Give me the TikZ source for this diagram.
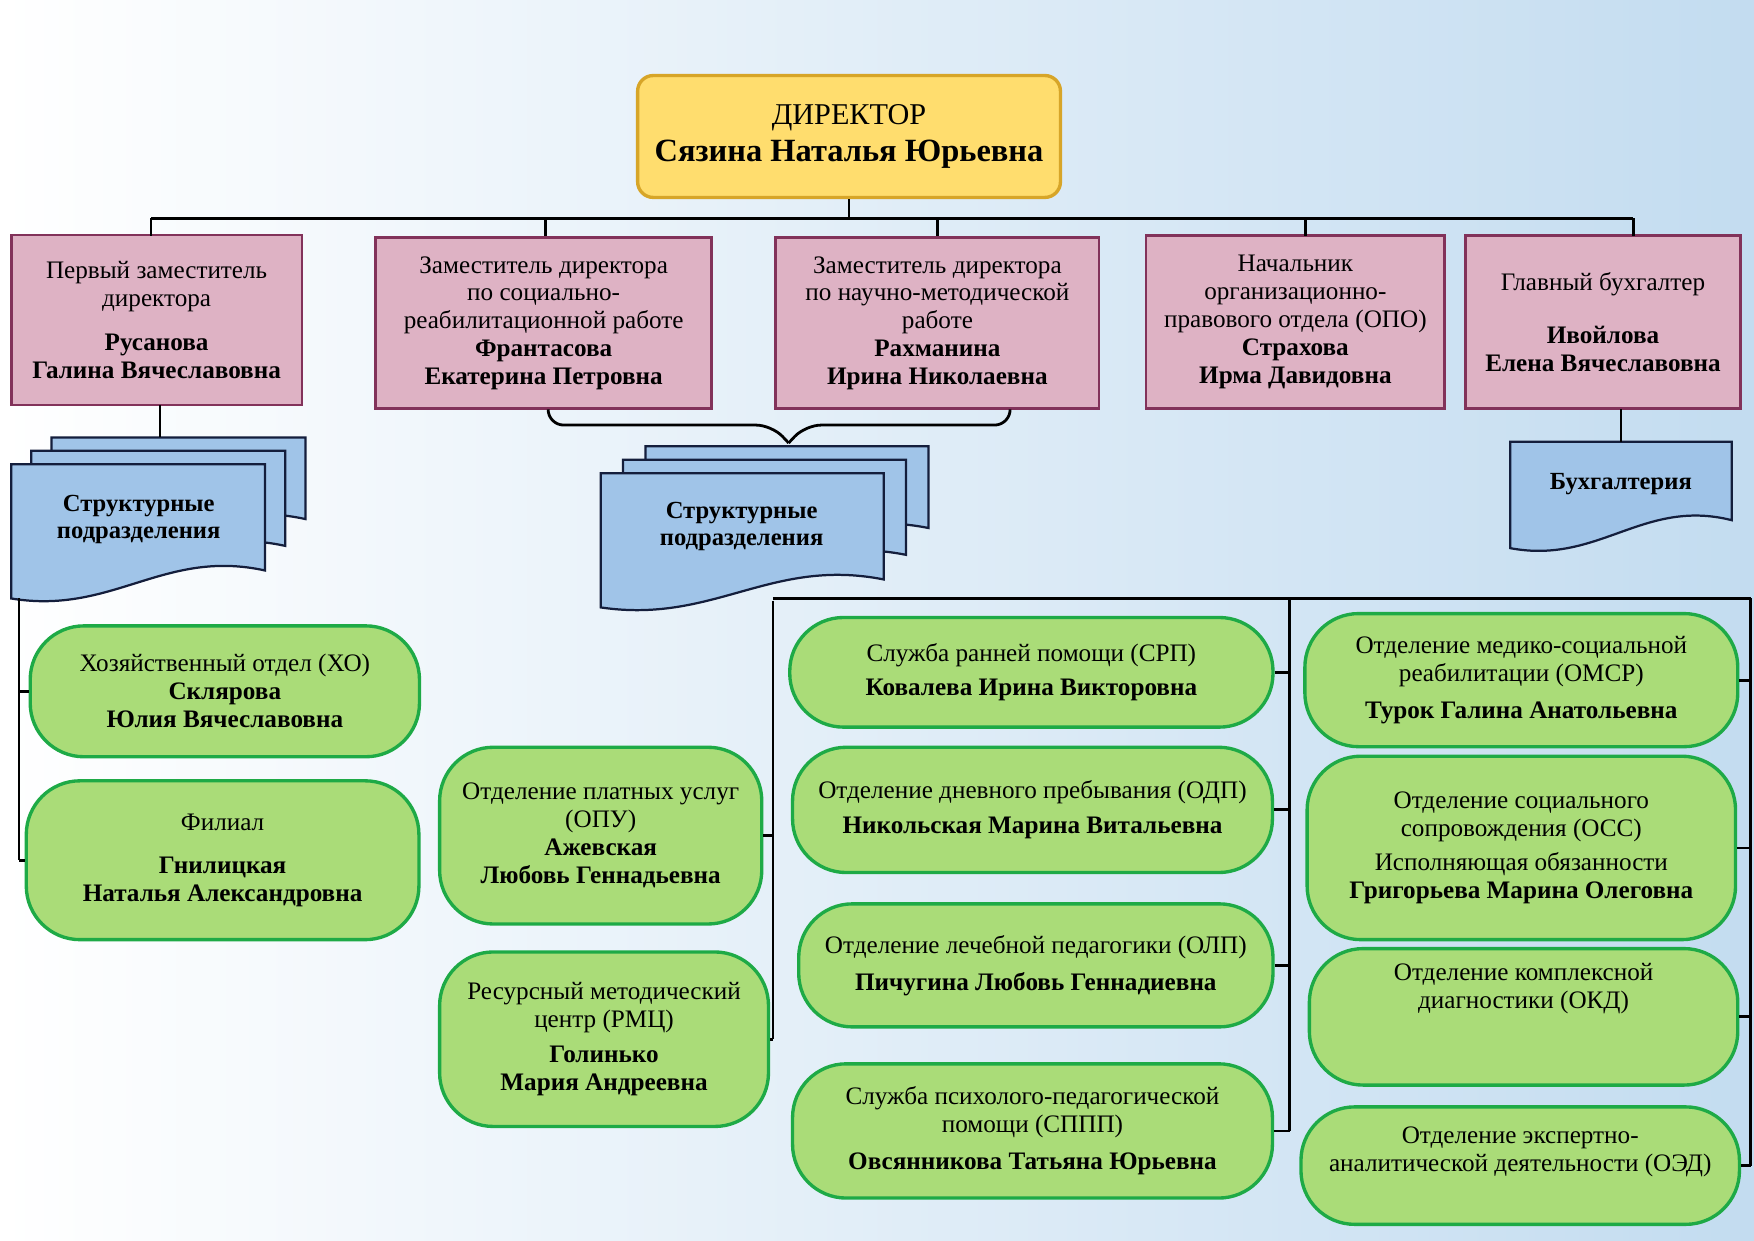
\documentclass[tikz,border=0pt]{standalone}
\usepackage{fontspec}
\setmainfont{Liberation Serif}
\usetikzlibrary{calc,decorations.pathreplacing}
\definecolor{pinkfill}{RGB}{222,178,196}
\definecolor{pinkline}{RGB}{130,50,90}
\definecolor{goldfill}{RGB}{255,221,110}
\definecolor{goldline}{RGB}{215,165,40}
\definecolor{greenfill}{RGB}{170,220,120}
\definecolor{greenline}{RGB}{30,170,70}
\definecolor{bluefill}{RGB}{160,196,232}
\definecolor{blueline}{RGB}{20,30,60}
\definecolor{bgright}{RGB}{195,220,240}
\tikzset{
  txt/.style={font=\fontsize{22.5}{25}\selectfont, align=center},
  head/.style={txt, draw=pinkline, fill=pinkfill, line width=2.5pt, inner sep=1pt},
  pill/.style={txt, draw=greenline, fill=greenfill, line width=3pt, rounded corners=48pt, inner sep=1pt},
  wire/.style={line width=2.5pt, black},
  doclabel/.style={txt, font=\fontsize{22}{24}\selectfont\bfseries},
  docfill/.style={draw=blueline, fill=bluefill, line width=2pt}
}
% document shape: x, y (top left), width, height
\newcommand\docpage[4]{%
  \draw[docfill] (#1,#2) -- (#1+#3,#2) -- (#1+#3,#2+#4-25)
    .. controls (#1+0.6*#3,#2+#4-45) and (#1+0.4*#3,#2+#4+15) .. (#1,#2+#4) -- cycle;}
\begin{document}
\begin{tikzpicture}[x=1pt,y=-1pt]
  \useasboundingbox (0,0) rectangle (1568,1109);
  \shade[left color=white, right color=bgright] (0,0) rectangle (1568,1109);

  % Director
  \node[txt, draw=goldline, fill=goldfill, line width=3pt, rounded corners=14pt,
        minimum width=378pt, minimum height=109pt] (dir) at (759,122)
    {{\fontsize{27}{32}\selectfont ДИРЕКТОР}\\[8pt]{\fontsize{29}{32}\selectfont\bfseries Сязина Наталья Юрьевна}};

  % Deputies
  \node[head, minimum width=260pt, minimum height=152pt] (d1) at (140,286)
    {Первый заместитель\\директора\\[14pt]\textbf{Русанова}\\\textbf{Галина Вячеславовна}};
  \node[head, minimum width=300pt, minimum height=153pt] (d2) at (486,289)
    {Заместитель директора\\по социально-\\реабилитационной работе\\\textbf{Франтасова}\\\textbf{Екатерина Петровна}};
  \node[head, minimum width=289pt, minimum height=153pt] (d3) at (838,289)
    {Заместитель директора\\по научно-методической\\работе\\\textbf{Рахманина}\\\textbf{Ирина Николаевна}};
  \node[head, minimum width=267pt, minimum height=155pt] (d4) at (1158,288)
    {Начальник\\организационно-\\правового отдела (ОПО)\\\textbf{Страхова}\\\textbf{Ирма Давидовна}};
  \node[head, minimum width=246pt, minimum height=155pt] (d5) at (1433,288)
    {Главный бухгалтер\\[22pt]\textbf{Ивойлова}\\\textbf{Елена Вячеславовна}};

  % Top bus
  \coordinate (bus) at (dir.south |- 0,195);
  \draw[wire] (dir.south) -- (bus);
  \draw[wire] (135,195) -- (1460,195);
  \foreach \x in {135,488,838,1167,1460}
    \draw[wire] (\x,195) -- (\x,211);

  % Document stacks
  \docpage{46}{391}{227}{98}
  \docpage{28}{403}{227}{110}
  \docpage{10}{415}{227}{120}
  \node[doclabel] (sd1) at (124,464) {Структурные\\подразделения};
  \docpage{577}{399}{253}{98}
  \docpage{557}{411}{253}{110}
  \docpage{537}{423}{253}{120}
  \node[doclabel] (sd2) at (663,471) {Структурные\\подразделения};
  \docpage{1350}{395}{198}{95}
  \node[doclabel] (buh) at (1449,433) {Бухгалтерия};

  \draw[wire] (143,362) -- (143,391);
  \draw[wire] (1449,366) -- (1449,395);
  \draw[wire, rounded corners=14pt] (490,366) -- (490,380) -- (690,380) -- (705,396);
  \draw[wire, rounded corners=14pt] (903,366) -- (903,380) -- (720,380) -- (705,396);

  % Left column
  \node[pill, minimum width=348pt, minimum height=117pt] (xo) at (201,618)
    {Хозяйственный отдел (ХО)\\\textbf{Склярова}\\\textbf{Юлия Вячеславовна}};
  \node[pill, minimum width=351pt, minimum height=142pt] (fil) at (199,769)
    {Филиал\\[14pt]\textbf{Гнилицкая}\\\textbf{Наталья Александровна}};
  \draw[wire] (17,535) -- (17,769);
  \draw[wire] (xo.west -| 17,0) -- (xo.west);
  \draw[wire] (fil.west -| 17,0) -- (fil.west);

  % Middle column
  \node[pill, minimum width=288pt, minimum height=158pt] (opu) at (537,747)
    {Отделение платных услуг\\(ОПУ)\\\textbf{Ажевская}\\\textbf{Любовь Геннадьевна}};
  \node[pill, minimum width=294pt, minimum height=156pt] (rmc) at (540,929)
    {Ресурсный методический\\центр (РМЦ)\\[6pt]\textbf{Голинько}\\\textbf{Мария Андреевна}};
  \draw[wire] (691,537) -- (691,929);
  \draw[wire] (opu.east) -- (opu.east -| 691,0);
  \draw[wire] (rmc.east) -- (rmc.east -| 691,0);

  % Right bus
  \draw[wire] (691,535) -- (1565,535);
  \draw[wire] (1153,535) -- (1153,1011);
  \draw[wire] (1565,535) -- (1565,1042);

  \node[pill, minimum width=432pt, minimum height=98pt] (srp) at (922,601)
    {Служба ранней помощи (СРП)\\[6pt]\textbf{Ковалева Ирина Викторовна}};
  \node[pill, minimum width=429pt, minimum height=112pt] (odp) at (923,724)
    {Отделение дневного пребывания (ОДП)\\[6pt]\textbf{Никольская Марина Витальевна}};
  \node[pill, minimum width=424pt, minimum height=110pt] (olp) at (926,863)
    {Отделение лечебной педагогики (ОЛП)\\[8pt]\textbf{Пичугина Любовь Геннадиевна}};
  \node[pill, minimum width=429pt, minimum height=120pt] (sppp) at (923,1011)
    {Служба психолого-педагогической\\помощи (СППП)\\[8pt]\textbf{Овсянникова Татьяна Юрьевна}};
  \foreach \n in {srp,odp,olp,sppp}
    \draw[wire] (\n.east) -- (\n.east -| 1153,0);

  \node[pill, minimum width=387pt, minimum height=119pt] (omsr) at (1360,608)
    {Отделение медико-социальной\\реабилитации (ОМСР)\\[8pt]\textbf{Турок Галина Анатольевна}};
  \node[pill, minimum width=383pt, minimum height=164pt] (oss) at (1360,758)
    {Отделение социального\\сопровождения (ОСС)\\[6pt]Исполняющая обязанности\\\textbf{Григорьева Марина Олеговна}};
  \node[pill, minimum width=383pt, minimum height=122pt] (okd) at (1362,909)
    {Отделение комплексной\\диагностики (ОКД)\\[30pt]\mbox{}};
  \node[pill, minimum width=392pt, minimum height=105pt] (oed) at (1359,1042)
    {Отделение экспертно-\\аналитической деятельности (ОЭД)\\[4pt]\mbox{}};
  \foreach \n in {omsr,oss,okd,oed}
    \draw[wire] (\n.east) -- (\n.east -| 1565,0);
\end{tikzpicture}
\end{document}
